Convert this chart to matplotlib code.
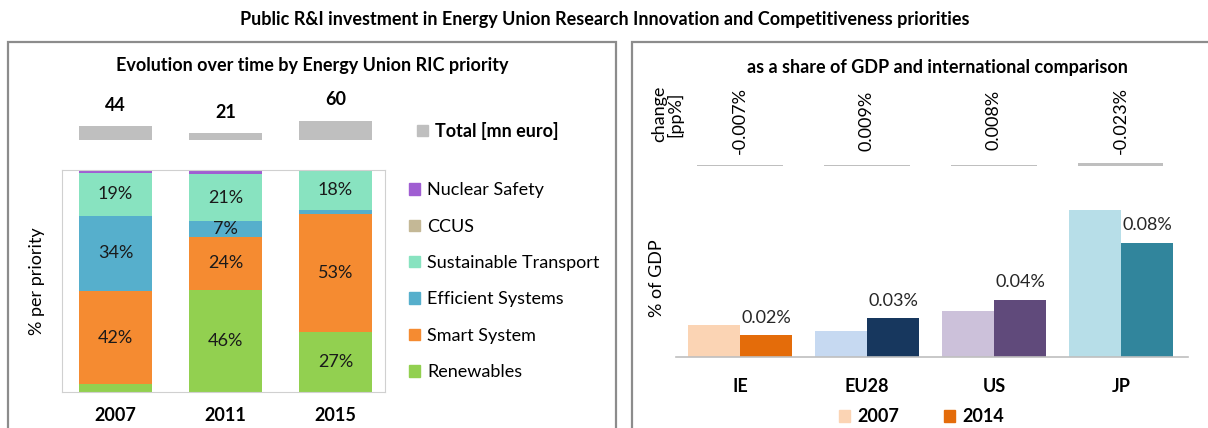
import matplotlib.pyplot as plt
from matplotlib.patches import Rectangle, Patch

plt.rcParams['font.family'] = ['Lato', 'DejaVu Sans']

# --- left panel data: share of public R&I budget by Energy Union RIC priority
years = ['2007', '2011', '2015']
totals = [44, 21, 60]  # mn euro
priorities = ['Renewables', 'Smart System', 'Efficient Systems',
              'Sustainable Transport', 'CCUS', 'Nuclear Safety']
shares = {
    'Renewables':            [3.5, 46, 27],
    'Smart System':          [42, 24, 53],
    'Efficient Systems':     [34, 7, 2],
    'Sustainable Transport': [19, 21, 18],
    'CCUS':                  [0, 0, 0],
    'Nuclear Safety':        [1.5, 2, 0],
}
prio_colors = {
    'Renewables': '#92d050',
    'Smart System': '#f58b31',
    'Efficient Systems': '#56afcc',
    'Sustainable Transport': '#88e3c0',
    'CCUS': '#c4b896',
    'Nuclear Safety': '#a05ed2',
}

# --- right panel data: public R&I in % of GDP
countries = ['IE', 'EU28', 'US', 'JP']
gdp_2007 = [0.0222, 0.018, 0.032, 0.103]
gdp_2014 = [0.0152, 0.027, 0.040, 0.080]
change_pp = [-0.007, 0.009, 0.008, -0.023]
light_cols = ['#fbd4b4', '#c6d9f1', '#ccc1da', '#b7dee8']
dark_cols = ['#e46c0a', '#17375e', '#604a7b', '#31859c']

FS = 13
W, H = 1208, 428
fig = plt.figure(figsize=(W / 100, H / 100), dpi=100)


def px_axes(x0, y0, x1, y1):
    # axes from pixel box (top-left origin)
    return fig.add_axes([x0 / W, 1 - y1 / H, (x1 - x0) / W, (y1 - y0) / H])


# panel frames
for x0, x1 in [(8, 616), (632, 1214)]:
    fig.patches.append(Rectangle((x0 / W, -0.05), (x1 - x0) / W, 1.05 - 42 / H,
                                 transform=fig.transFigure, fill=False,
                                 edgecolor='#8c8c8c', linewidth=1.6))

fig.text(605 / W, 1 - 20 / H,
         'Public R&I investment in Energy Union Research Innovation and Competitiveness priorities',
         ha='center', va='center', fontsize=FS, fontweight='bold')
fig.text(312 / W, 1 - 66 / H, 'Evolution over time by Energy Union RIC priority',
         ha='center', va='center', fontsize=FS, fontweight='bold')
fig.text(937 / W, 1 - 67 / H, 'as a share of GDP and international comparison',
         ha='center', va='center', fontsize=FS, fontweight='bold')

# ---- stacked shares
x = range(len(years))
ax = px_axes(62, 170, 385, 392)
bottom = [0.0] * len(years)
for p in priorities:
    vals = shares[p]
    ax.bar(x, vals, width=0.66, bottom=bottom, color=prio_colors[p], label=p)
    for i, v in enumerate(vals):
        if v >= 5:
            ax.text(i, bottom[i] + v / 2, f'{v:.0f}%', ha='center', va='center',
                    fontsize=FS, color='#1a1a1a')
    bottom = [b + v for b, v in zip(bottom, vals)]
ax.set_xlim(-0.486, 2.45)
ax.set_ylim(0, 100)
ax.set_yticks([])
ax.set_xticks(list(x))
ax.set_xticklabels(years, fontsize=FS, fontweight='bold')
ax.tick_params(axis='x', length=0, pad=11)
for s in ax.spines.values():
    s.set_color('#d0d0d0')
ax.set_ylabel('% per priority', fontsize=FS, labelpad=12)

handles = [Patch(color=prio_colors[p], label=p) for p in priorities[::-1]]
fig.legend(handles=handles, loc='upper left', bbox_to_anchor=(402 / W, 1 - 175 / H),
           frameon=False, fontsize=FS, handlelength=0.6, handleheight=0.6,
           handletextpad=0.4, labelspacing=1.13, borderaxespad=0)

# ---- totals above the stacked bars
axt = px_axes(62, 95, 385, 140)
tb = axt.bar(x, totals, width=0.66, color='#bfbfbf')
axt.bar_label(tb, labels=[str(t) for t in totals], padding=9,
              fontsize=FS, fontweight='bold')
axt.set_xlim(-0.486, 2.45)
axt.set_ylim(0, 60 * 45 / 19)
axt.axis('off')
fig.legend(handles=[Patch(color='#bfbfbf', label='Total [mn euro]')], loc='center left',
           bbox_to_anchor=(410 / W, 1 - 131 / H), frameon=False,
           prop={'size': FS, 'weight': 'bold'}, handlelength=0.6, handleheight=0.6,
           handletextpad=0.4, borderaxespad=0)

# ---- % of GDP bars
xc = range(len(countries))
axg = px_axes(676, 200, 1188, 357)
b07 = axg.bar([i - 0.205 for i in xc], gdp_2007, width=0.41, color=light_cols)
b14 = axg.bar([i + 0.205 for i in xc], gdp_2014, width=0.41, color=dark_cols)
axg.bar_label(b14, labels=[f'{v:.2f}%' for v in gdp_2014],
              padding=7, fontsize=FS, color='#262626')
axg.set_xlim(-0.504, 3.528)
axg.set_ylim(0, 0.110)
axg.set_yticks([])
axg.set_xticks(list(xc))
axg.set_xticklabels(countries, fontsize=FS, fontweight='bold')
axg.tick_params(axis='x', length=0, pad=15)
for side in ['top', 'right', 'left']:
    axg.spines[side].set_visible(False)
axg.spines['bottom'].set_color('#bfbfbf')
axg.spines['bottom'].set_linewidth(1.2)
axg.set_ylabel('% of GDP', fontsize=FS, labelpad=8)

fig.legend(handles=[Patch(color=light_cols[0], label='2007'),
                    Patch(color=dark_cols[0], label='2014')],
           loc='center left', bbox_to_anchor=(832 / W, 1 - 417 / H), ncol=2,
           frameon=False, prop={'size': FS, 'weight': 'bold'}, handlelength=0.6,
           handleheight=0.6, handletextpad=0.4, columnspacing=2.5, borderaxespad=0)

# ---- change in pp of GDP, 2007-2014
axc = px_axes(676, 80, 1188, 166)
axc.bar(list(xc), [abs(c) for c in change_pp], width=0.67, color='#bfbfbf')
for i, c in enumerate(change_pp):
    axc.text(i, 0.53, f'{c:.3f}%', rotation=90, ha='center', va='center',
             fontsize=FS, transform=axc.get_xaxis_transform())
axc.set_xlim(-0.504, 3.528)
axc.set_ylim(0, 86 / 130)
axc.axis('off')
fig.text(667 / W, 1 - 114 / H, 'change\n[pp%]', rotation=90, ha='center', va='center',
         fontsize=FS, linespacing=0.95)

fig.savefig('out.png', dpi=100)
